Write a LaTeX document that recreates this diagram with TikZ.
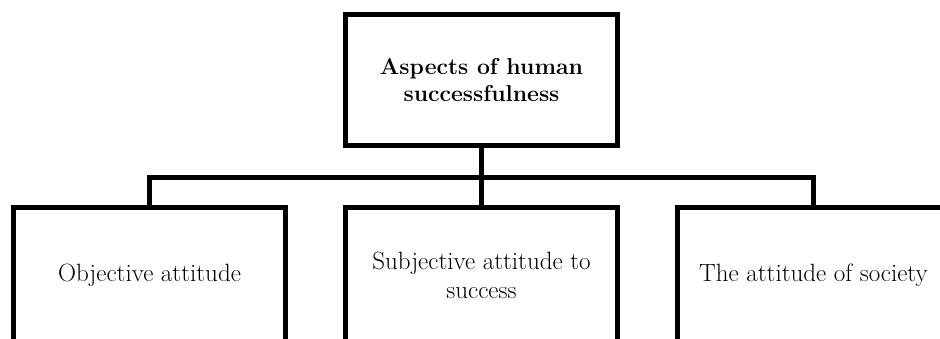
\documentclass[tikz,border=0pt]{standalone}
\usepackage{amsmath}
\usetikzlibrary{positioning}

\begin{document}
\begin{tikzpicture}[x=1pt, y=-1pt]
		\clip (0,0) rectangle (940,339);
		\begin{scope}[every node/.style={rectangle, draw, line width=5pt, minimum width=272pt, minimum height=131pt, align=center, font=\fontsize{25}{29}\selectfont, inner sep=0pt}]
			\node[font=\fontsize{23}{27}\selectfont\bfseries] (aspects) at (481.5,80) {Aspects of human\\successfulness};
			\node[minimum height=136pt] (objective) at (149.5,275.5) {Objective attitude};
			\node[minimum height=136pt] (subjective) at (481.5,275.5) {Subjective attitude to\\success};
			\node[minimum height=136pt] (society) at (813.5,275.5) {The attitude of society};
		\end{scope}
		\coordinate (bus) at (481.5,177.5);
		\begin{scope}[every path/.style={line width=5pt}]
			\draw (aspects.south) -- (bus);
			\draw (bus) -- (subjective.north);
			\draw (objective.north) |- (bus) -| (society.north);
		\end{scope}
	\end{tikzpicture}
\end{document}
